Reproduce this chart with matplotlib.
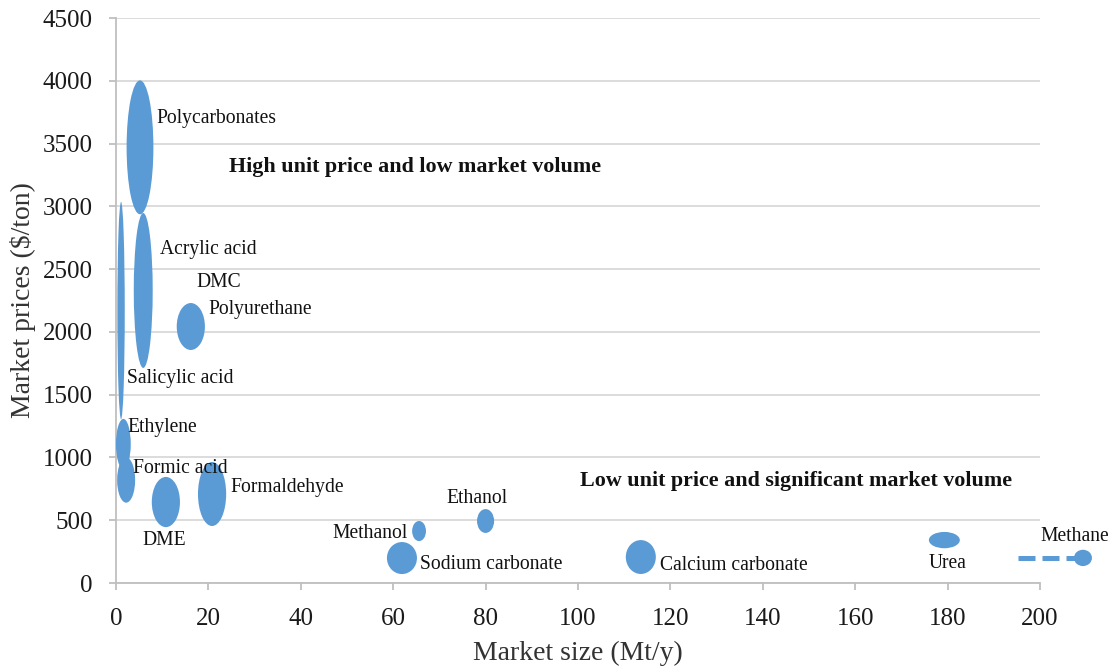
import matplotlib.pyplot as plt
from matplotlib.patches import Ellipse

plt.rcParams['font.family'] = ['Liberation Serif', 'DejaVu Serif']

# bubble data: market size (Mt/y), price ($/ton), ellipse extents as drawn
products = ["Polycarbonates", "Salicylic acid", "Acrylic acid", "Polyurethane",
            "Ethylene", "Formic acid", "DME", "Formaldehyde", "Methanol",
            "Ethanol", "Sodium carbonate", "Calcium carbonate", "Urea", "Methane"]
market_size = [5.2, 1.1, 5.9, 16.2, 1.6, 2.2, 10.8, 20.8, 65.6, 80.0, 61.9, 113.6, 179.3, 209.3]
market_price = [3470, 2170, 2330, 2043, 1107, 820, 645, 709, 414, 494, 199, 207, 342, 200]
bubble_w = [5.8, 1.6, 4.1, 6.1, 3.2, 3.9, 6.1, 6.1, 3.0, 3.7, 6.5, 6.5, 6.7, 3.9]
bubble_h = [1067, 1730, 1234, 374, 400, 360, 400, 510, 160, 190, 255, 270, 130, 130]

# methane is off the scale: dashed connector from the axis edge
methane_link_x = [195.2, 209.3]
methane_link_y = [200, 200]

# label anchor points (data coords, left / centre)
labels = {
    "Polycarbonates": (8.8, 3700),
    "Acrylic acid": (9.5, 2660),
    "DMC": (17.5, 2390),
    "Polyurethane": (19.9, 2180),
    "Salicylic acid": (2.4, 1625),
    "Ethylene": (2.4, 1240),
    "Formic acid": (3.7, 910),
    "Formaldehyde": (24.7, 757),
    "DME": (5.8, 335),
    "Ethanol": (71.6, 677),
    "Methanol": (46.8, 398),
    "Sodium carbonate": (65.8, 151),
    "Calcium carbonate": (117.7, 143),
    "Urea": (176.0, 159),
    "Methane": (200.0, 374),
}

blue = "#5B9BD5"
grey = "#BFBFBF"

fig = plt.figure(figsize=(11.13, 6.67), dpi=100)
ax = fig.add_axes([0.1042, 0.1259, 0.8302, 0.8471])

ax.set_xlim(0, 200)
ax.set_ylim(0, 4500)
ax.set_xticks(range(0, 201, 20))
ax.set_yticks(range(0, 4501, 500))
ax.yaxis.grid(True, color="#D9D9D9", linewidth=1.3)
ax.set_axisbelow(True)

for s in ["top", "right"]:
    ax.spines[s].set_visible(False)
for s in ["left", "bottom"]:
    ax.spines[s].set_color(grey)
    ax.spines[s].set_linewidth(1.3)
ax.tick_params(axis="both", colors=grey, length=4.8, width=1.3, labelsize=18,
               labelcolor="#1a1a1a", direction="out")
ax.tick_params(axis="x", pad=13)
ax.tick_params(axis="y", pad=12)

ax.plot(methane_link_x, methane_link_y, color=blue, linewidth=3.6,
        dashes=(3.4, 1.4), dash_capstyle="butt", solid_capstyle="butt",
        clip_on=False, zorder=2)

for x, y, w, h in zip(market_size, market_price, bubble_w, bubble_h):
    e = Ellipse((x, y), w, h, facecolor=blue, edgecolor="none", zorder=3,
                clip_on=False)
    ax.add_patch(e)

for name, (lx, ly) in labels.items():
    ax.text(lx, ly, name, fontsize=14.1, ha="left", va="center",
            color="#111111", zorder=4, clip_on=False)

ax.text(24.4, 3310, "High unit price and low market volume", fontsize=15.8,
        fontweight="bold", ha="left", va="center", color="#111111")
ax.text(100.4, 813, "Low unit price and significant market volume", fontsize=15.8,
        fontweight="bold", ha="left", va="center", color="#111111")

ax.set_xlabel("Market size (Mt/y)", fontsize=20, color="#333333", labelpad=8)
ax.set_ylabel("Market prices ($/ton)", fontsize=20, color="#333333", labelpad=4.5)

fig.savefig("out.png", dpi=100)
